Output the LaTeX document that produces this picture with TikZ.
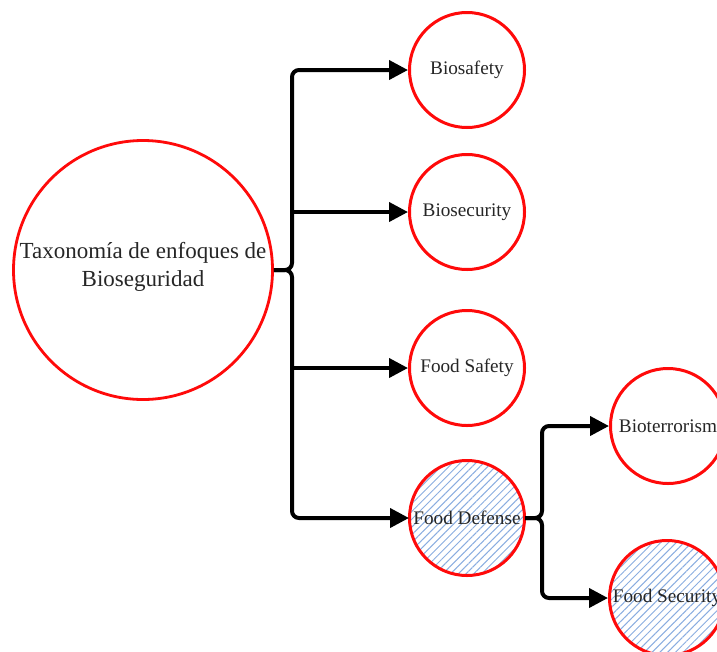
\documentclass[tikz,border=0pt]{standalone}
\usepackage{fontspec}
\setmainfont{Liberation Serif}
\usetikzlibrary{arrows.meta,patterns.meta}
\definecolor{ringred}{HTML}{FF0A0A}
\definecolor{hatchblue}{HTML}{8AADE0}
\definecolor{labelgray}{HTML}{262626}
\tikzset{
  x=1pt, y=-1pt,
  topic/.style={circle, draw=ringred, line width=3pt, fill=white, minimum size=115pt,
    inner sep=0pt, text=labelgray, font=\fontsize{19.2}{22}\selectfont},
  hatched/.style={pattern={Lines[angle=45,distance=5.5pt,line width=1pt]}, pattern color=hatchblue},
  root/.style={circle, draw=ringred, line width=2.8pt, minimum size=259pt, inner sep=0pt,
    text=labelgray, align=center, font=\fontsize{23}{27.5}\selectfont},
  link/.style={line width=4pt, rounded corners=7pt, -{Triangle[length=19pt,width=19pt]}}
}
\begin{document}
\begin{tikzpicture}
\useasboundingbox (0,0) rectangle (717,651);
% root concept
\node[root] (tax) at (143,270) {Taxonomía de enfoques de\\Bioseguridad\\[-16pt]};
% first-level approaches
\node[topic] (bsf) at (467,70) {Biosafety};
\node[topic] (bsc) at (467,212) {Biosecurity};
\node[topic] (fsf) at (467,368) {Food Safety};
\node[topic, hatched] (fdf) at (467,518) {Food Defense};
% second-level approaches
\node[topic] (bter) at (668,426) {Bioterrorism};
\node[topic, hatched] (fsec) at (667,598) {Food Security};
% bracket from the root
\coordinate (j1) at (292,270);
\draw[link] (tax.east) -- (j1) -- (j1 |- bsf) -- (bsf.west);
\draw[link] (tax.east) -- (j1) -- (j1 |- fdf) -- (fdf.west);
\draw[link] (j1 |- bsc) -- (bsc.west);
\draw[link] (j1 |- fsf) -- (fsf.west);
% bracket from Food Defense
\coordinate (j2) at (542,518);
\draw[link] (fdf.east) -- (j2) -- (j2 |- bter) -- (bter.west);
\draw[link] (fdf.east) -- (j2) -- (j2 |- fsec) -- (fsec.west);
\end{tikzpicture}
\end{document}
